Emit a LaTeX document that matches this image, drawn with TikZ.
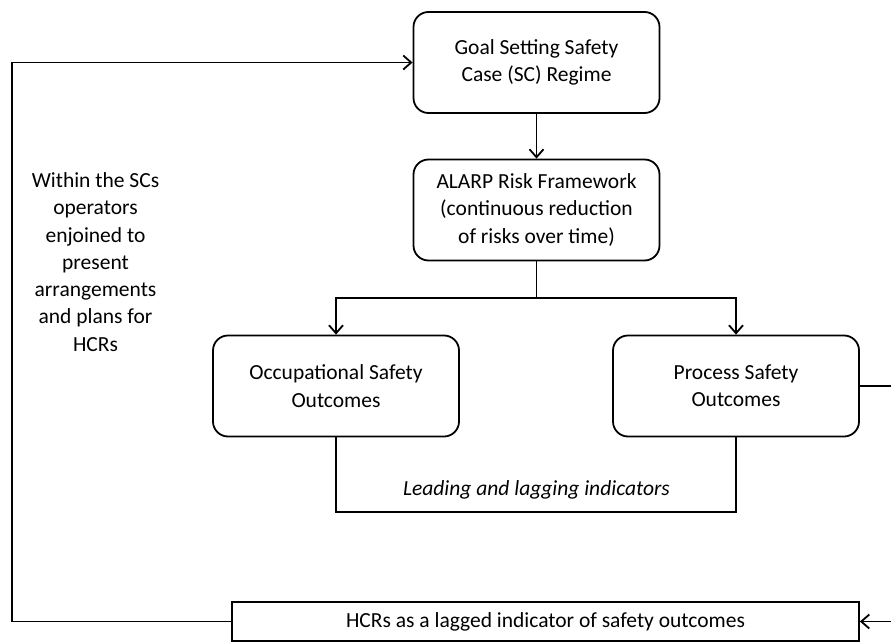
\documentclass[tikz,border=0pt]{standalone}
\usepackage{fontspec}
\setmainfont{Carlito}
\usetikzlibrary{arrows.meta}
\tikzset{
  box/.style={draw,rounded corners=15pt,minimum width=246pt,minimum height=101pt,align=center,inner sep=0pt},
  flat/.style={draw,minimum width=627pt,minimum height=39pt,inner sep=0pt},
  arr/.style={-{Straight Barb[length=8pt,width=14pt,line width=1.8pt]}}
}

\begin{document}
\begin{tikzpicture}[x=1pt,y=-1pt,line width=1.8pt,font=\fontsize{21.5}{27.3}\selectfont]
        \useasboundingbox (0,0) rectangle (891,642);
        \clip (0,0) rectangle (891,642);
        \node[box] (goal) at (536.5,62.5) {Goal Setting Safety\\Case (SC) Regime};
        \node[box] (alarp) at (536.5,210) {ALARP Risk Framework\\(continuous reduction\\of risks over time)};
        \node[box] (occ) at (336,386) {Occupational Safety\\Outcomes};
        \node[box] (proc) at (736,386) {Process Safety\\Outcomes};
        \node[flat] (hcr) at (545.5,621.5) {HCRs as a lagged indicator of safety outcomes};
        \node[align=center] (note) at (95.5,262) {Within the SCs\\operators\\enjoined to\\present\\arrangements\\and plans for\\HCRs};
        \coordinate (split) at (536.5,298);
        \coordinate (ind) at (536.5,512);
        \coordinate (edge) at (900,0);
        \coordinate (lft) at (12,0);
        \draw[arr] (goal) -- (alarp);
        \draw (alarp) -- (split);
        \draw[arr] (split) -| (occ);
        \draw[arr] (split) -| (proc);
        \draw (occ) |- (ind) -| (proc);
        \node[font=\fontsize{21.5}{27.3}\selectfont\itshape] (lag) at (536.5,490) {Leading and lagging indicators};
        \draw[arr] (proc) -- (proc -| edge) |- (hcr);
        \draw[arr] (hcr) -- (hcr -| lft) |- (goal);
      \end{tikzpicture}
\end{document}
